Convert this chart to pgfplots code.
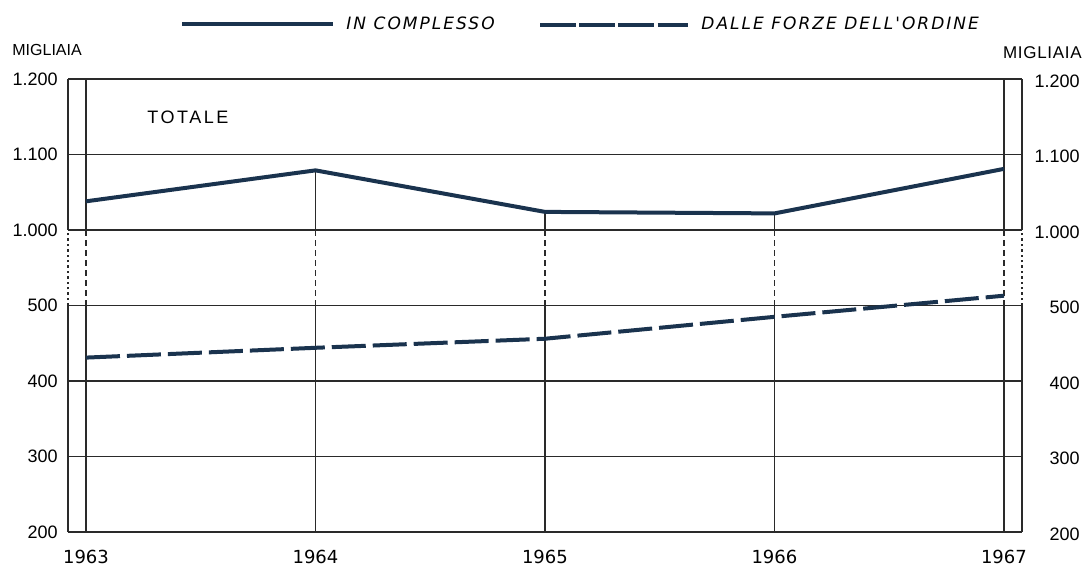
\documentclass[border=0pt]{standalone}
\usepackage{fontspec}
\setmainfont{Liberation Sans}
\newfontfamily\dvs{DejaVu Sans}
\usepackage{pgfplots}
\pgfplotsset{compat=1.18}
\usepackage{pgfplotstable}
\definecolor{navy}{HTML}{1A334E}
\definecolor{gridc}{HTML}{2A2A2A}

\pgfplotstableread{
year tot forze
1963 1038 431
1964 1079 444
1965 1024 456
1966 1022 485
1967 1081 513
}\datatable

\pgfplotsset{
 common/.style={
  at={(34pt,18.5pt)}, anchor=south west, scale only axis,
  width=477pt, height=226.5pt,
  xmin=1962.9216, xmax=1967.0784, ymin=200, ymax=800,
  ytick={200,300,...,800}, yticklabels={200,300,400,500,1.000,1.100,1.200},
  major tick length=0pt, axis line style={draw=none},
  yticklabel style={font=\fontsize{9}{10}\selectfont, inner sep=0pt},
  clip=false,
 },
}
\tikzset{
 gl/.style={gridc, line width=0.7pt},
 gd/.style={gridc, line width=0.7pt, dash pattern=on 1.2pt off 1.5pt},
 yl/.style={gridc, line width=0.6pt},
 yd/.style={gridc, line width=0.6pt, dash pattern=on 3pt off 2pt},
}

\begin{document}
\begin{tikzpicture}[x=0.5pt,y=0.5pt]
\path[use as bounding box] (0,0) rectangle (1085,569);
\begin{axis}[common,
  xtick={1963,...,1967}, xticklabels={1963,1964,1965,1966,1967},
  xticklabel style={anchor=north, yshift=-9pt, inner sep=0pt, font=\dvs\fontsize{9}{10}\selectfont},
  yticklabel style={anchor=east, xshift=-5pt},
  ymajorgrids, grid style={gridc, line width=0.6pt},
  y filter/.expression={y>750 ? y-400 : y},
]
% frame
\draw[gl] (rel axis cs:0,0) -- (rel axis cs:1,0);
\draw[gl] (rel axis cs:0,1) -- (rel axis cs:1,1);
\draw[gl] (rel axis cs:0,0) -- (rel axis cs:0,0.5);
\draw[gd] (rel axis cs:0,0.5) -- (rel axis cs:0,0.6667);
\draw[gl] (rel axis cs:0,0.6667) -- (rel axis cs:0,1);
\draw[gl] (rel axis cs:1,0) -- (rel axis cs:1,0.5);
\draw[gd] (rel axis cs:1,0.5) -- (rel axis cs:1,0.6667);
\draw[gl] (rel axis cs:1,0.6667) -- (rel axis cs:1,1);
% year lines
\draw[yl] (axis cs:1963,200) -- (axis cs:1963,500);
\draw[yd] (axis cs:1963,500) -- (axis cs:1963,600);
\draw[yl] (axis cs:1963,600) -- (axis cs:1963,800);
\draw[yl] (axis cs:1964,200) -- (axis cs:1964,500);
\draw[yd] (axis cs:1964,500) -- (axis cs:1964,600);
\draw[yl] (axis cs:1964,600) -- (axis cs:1964,679);
\draw[yl] (axis cs:1965,200) -- (axis cs:1965,500);
\draw[yd] (axis cs:1965,500) -- (axis cs:1965,600);
\draw[yl] (axis cs:1965,600) -- (axis cs:1965,624);
\draw[yl] (axis cs:1966,200) -- (axis cs:1966,500);
\draw[yd] (axis cs:1966,500) -- (axis cs:1966,600);
\draw[yl] (axis cs:1966,600) -- (axis cs:1966,622);
\draw[yl] (axis cs:1967,200) -- (axis cs:1967,500);
\draw[yd] (axis cs:1967,500) -- (axis cs:1967,600);
\draw[yl] (axis cs:1967,600) -- (axis cs:1967,800);
\addplot[navy, line width=2pt, line join=round] table[x=year, y=tot] {\datatable};
\addplot[navy, line width=2pt, dash pattern=on 17pt off 3.5pt] table[x=year, y=forze] {\datatable};
\end{axis}
\begin{axis}[common,
  xtick=\empty,
  ytick pos=right, yticklabel pos=right,
  yticklabel style={anchor=east, xshift=29pt, yshift=-1pt},
]
\addplot[draw=none] coordinates {(1963,200)};
\end{axis}
% texts
\draw[navy, line width=2pt] (182,545) -- (333,545);
\node[anchor=west, inner sep=0pt, font=\dvs\itshape\fontsize{8.5}{10}\selectfont\addfontfeature{LetterSpace=12}] at (346,546) {IN COMPLESSO};
\draw[navy, line width=2pt, dash pattern=on 18pt off 1.6pt] (540,544) -- (688,544);
\node[anchor=west, inner sep=0pt, font=\dvs\itshape\fontsize{8.5}{10}\selectfont\addfontfeature{LetterSpace=12}] at (701,546) {DALLE FORZE DELL'ORDINE};
\node[anchor=west, inner sep=0pt, font=\fontsize{8}{10}\selectfont] at (12,519) {MIGLIAIA};
\node[anchor=east, inner sep=0pt, font=\fontsize{8.5}{10}\selectfont\addfontfeature{LetterSpace=4}] at (1082,516) {MIGLIAIA};
\node[anchor=west, inner sep=0pt, font=\fontsize{9}{10}\selectfont\addfontfeature{LetterSpace=14}] at (147,452) {TOTALE};
\end{tikzpicture}
\end{document}
